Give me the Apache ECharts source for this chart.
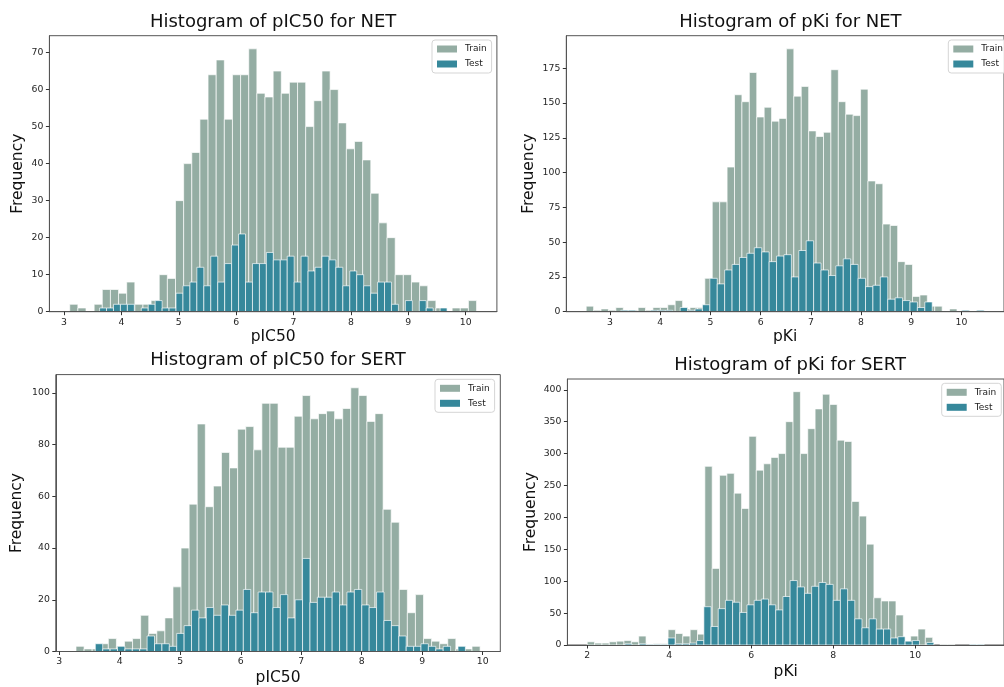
<!DOCTYPE html>
<html><head><meta charset="utf-8">
<script src="https://cdn.jsdelivr.net/npm/echarts@6/dist/echarts.min.js"></script>
<style>html,body{margin:0;padding:0;background:#fff}#c{width:1004px;height:687px}</style>
</head><body><div id="c"></div>
<script>
// ---------- DATA ----------
const seriesNames = ['Train', 'Test'];
const panelTitles = ['Histogram of pIC50 for NET', 'Histogram of pKi for NET', 'Histogram of pIC50 for SERT', 'Histogram of pKi for SERT'];
const xLabels = ['pIC50', 'pKi', 'pIC50', 'pKi'];
const yLabel = 'Frequency';

// panel 1: pIC50 NET (50 bins each)
const netIC50TrainRange = [3.1, 10.19];
const netIC50Train = [2,1,0,2,6,6,5,8,2,2,3,10,9,30,40,43,52,64,68,52,64,64,71,59,58,65,59,62,62,50,57,65,60,51,44,46,41,32,24,20,10,10,8,7,3,1,0,1,1,3];
const netIC50TestRange = [3.62, 9.676];
const netIC50Test = [1,1,2,2,2,0,1,2,3,1,1,5,7,8,12,7,15,8,13,18,21,8,13,13,16,14,14,15,8,15,11,12,15,14,12,7,11,10,7,5,8,8,2,0,3,0,3,1,0,1];

// panel 2: pKi NET
const netKiTrainRange = [2.527, 9.91];
const netKiTrain = [4,1,2,1,3,1,1,3,1,3,3,5,8,2,3,3,24,79,79,104,156,151,172,140,147,137,139,189,155,162,130,126,129,174,151,142,141,160,94,92,63,62,36,34,11,12,4,4,0,2];
const netKiTestRange = [3.07, 10.45];
const netKiTest = [0,1,1,0,0,1,1,1,0,3,1,2,5,24,20,30,34,39,42,46,43,36,40,41,25,44,51,35,30,26,33,38,34,24,18,19,25,9,10,8,7,3,7,0,0,0,0,1,0,1];

// panel 3: pIC50 SERT
const sertIC50TrainRange = [3.276, 9.957];
const sertIC50Train = [2,1,1,3,5,2,4,5,14,7,8,13,25,40,57,88,56,64,77,71,86,87,78,96,96,79,79,91,99,90,92,93,90,94,102,99,89,92,55,50,24,15,22,5,4,3,5,1,1,2];
const sertIC50TestRange = [3.595, 9.714];
const sertIC50Test = [3,1,1,2,1,1,1,6,3,3,2,7,10,16,13,17,14,18,14,16,24,15,23,23,17,22,13,20,36,19,21,21,23,18,23,24,18,17,23,12,10,6,2,2,3,2,1,2,0,2];

// panel 4: pKi SERT
const sertKiTrainRange = [2.0, 10.964];
const sertKiTrain = [5,3,3,5,6,7,5,14,1,2,2,24,18,14,24,17,280,120,266,269,238,214,327,274,284,294,300,350,397,300,339,370,393,377,321,319,225,202,158,74,69,69,47,6,14,25,12,0,1,1];
const sertKiTestRange = [2.916, 11.681];
const sertKiTest = [2,0,2,1,1,1,11,2,2,3,7,60,29,57,70,67,51,63,70,72,63,55,76,101,91,81,92,98,95,70,88,70,41,27,41,25,25,11,13,6,7,0,4,0,0,0,0,0,1,1];

// tick labels
const xTicks1 = [3,4,5,6,7,8,9,10];
const xTicks2 = [3,4,5,6,7,8,9,10];
const xTicks3 = [3,4,5,6,7,8,9,10];
const xTicks4 = [2,4,6,8,10];
const yTicks1 = [0,10,20,30,40,50,60,70];
const yTicks2 = [0,25,50,75,100,125,150,175];
const yTicks3 = [0,20,40,60,80,100];
const yTicks4 = [0,50,100,150,200,250,300,350,400];

// axis extents (matplotlib 5% margins around data)
const xExtents = [[2.7455, 10.5445], [2.131, 10.846], [2.942, 10.291], [1.516, 12.165]];
const yMaxes = [74.55, 198.45, 107.1, 416.85];

// ---------- LAYOUT / STYLE ----------
const FONT = 'DejaVu Sans';
const TRAIN_COLOR = '#94ada3';
const TEST_COLOR = '#36889b';
const layout = [
  {left: 49.4, top: 35.7, width: 447.5, height: 276, titleTop: 13, legendLeft: 432, legendTop: 40, yGap: 23.5, xGap: 17},
  {left: 566.3, top: 35.7, width: 448.2, height: 276, titleTop: 13, legendLeft: 948.3, legendTop: 40, yGap: 29.5, xGap: 17},
  {left: 55.8, top: 374.6, width: 444.5, height: 277.1, titleTop: 351, legendLeft: 435, legendTop: 379.3, yGap: 30.5, xGap: 18.5},
  {left: 567.4, top: 379, width: 445.4, height: 266, titleTop: 356, legendLeft: 941.7, legendTop: 383.3, yGap: 28.5, xGap: 19}
];

const panels = [
  {train: [netIC50TrainRange, netIC50Train], test: [netIC50TestRange, netIC50Test], xt: xTicks1, yt: yTicks1},
  {train: [netKiTrainRange, netKiTrain], test: [netKiTestRange, netKiTest], xt: xTicks2, yt: yTicks2},
  {train: [sertIC50TrainRange, sertIC50Train], test: [sertIC50TestRange, sertIC50Test], xt: xTicks3, yt: yTicks3},
  {train: [sertKiTrainRange, sertKiTrain], test: [sertKiTestRange, sertKiTest], xt: xTicks4, yt: yTicks4}
];

function binsOf(range, counts) {
  const w = (range[1] - range[0]) / counts.length;
  const out = [];
  counts.forEach((c, i) => { if (c > 0) out.push([range[0] + i * w, range[0] + (i + 1) * w, c]); });
  return out;
}

function renderBar(params, api) {
  const p0 = api.coord([api.value(0), api.value(2)]);
  const p1 = api.coord([api.value(1), 0]);
  return {
    type: 'rect',
    shape: {x: p0[0], y: p0[1], width: p1[0] - p0[0], height: p1[1] - p0[1]},
    style: {fill: api.visual('color'), stroke: 'rgba(255,255,255,0.75)', lineWidth: 0.9}
  };
}

const grid = [], xAxis = [], yAxis = [], series = [], title = [], legend = [];
panels.forEach((p, k) => {
  const L = layout[k];
  grid.push({left: L.left, top: L.top, width: L.width, height: L.height, show: true,
    borderColor: '#555', borderWidth: 1, backgroundColor: 'transparent', containLabel: false});
  xAxis.push({type: 'value', gridIndex: k, min: xExtents[k][0], max: xExtents[k][1], z: 5,
    name: xLabels[k], nameLocation: 'middle', nameGap: L.xGap,
    nameTextStyle: {fontFamily: FONT, fontSize: 15.5, color: '#111'},
    axisLine: {show: true, onZero: false, lineStyle: {color: '#555', width: 1}},
    axisTick: {show: true, length: 3.5, lineStyle: {color: '#333'}, customValues: p.xt},
    axisLabel: {margin: 6, fontFamily: FONT, fontSize: 9.3, color: '#262626', customValues: p.xt},
    splitLine: {show: false}});
  yAxis.push({type: 'value', gridIndex: k, min: 0, max: yMaxes[k], z: 5,
    name: yLabel, nameLocation: 'middle', nameGap: L.yGap, nameRotate: 90,
    nameTextStyle: {fontFamily: FONT, fontSize: 15.5, color: '#111'},
    axisLine: {show: true, lineStyle: {color: '#555', width: 1}},
    axisTick: {show: true, length: 3.5, lineStyle: {color: '#333'}, customValues: p.yt},
    axisLabel: {margin: 6, fontFamily: FONT, fontSize: 9.3, color: '#262626', customValues: p.yt},
    splitLine: {show: false}});
  series.push({type: 'custom', name: seriesNames[0], xAxisIndex: k, yAxisIndex: k, clip: true, z: 2,
    itemStyle: {color: TRAIN_COLOR}, renderItem: renderBar, encode: {x: [0, 1], y: 2},
    data: binsOf(p.train[0], p.train[1])});
  series.push({type: 'custom', name: seriesNames[1], xAxisIndex: k, yAxisIndex: k, clip: true, z: 3,
    itemStyle: {color: TEST_COLOR}, renderItem: renderBar, encode: {x: [0, 1], y: 2},
    data: binsOf(p.test[0], p.test[1])});
  title.push({text: panelTitles[k], left: L.left + L.width / 2, top: L.titleTop, textAlign: 'center', padding: 0,
    textStyle: {fontFamily: FONT, fontSize: 18, fontWeight: 'normal', color: '#111'}});
  legend.push({left: L.legendLeft, top: L.legendTop, orient: 'vertical', padding: [3, 5, 3, 5],
    itemWidth: 20, itemHeight: 7, itemGap: 3, icon: 'rect',
    backgroundColor: 'rgba(255,255,255,0.85)', borderColor: '#d5d5d5', borderWidth: 1, borderRadius: 3,
    textStyle: {fontFamily: FONT, fontSize: 9, color: '#222', lineHeight: 12, padding: [0, 0, 0, 3]},
    data: [{name: seriesNames[0], itemStyle: {color: TRAIN_COLOR}}, {name: seriesNames[1], itemStyle: {color: TEST_COLOR}}]});
});

const chart = echarts.init(document.getElementById('c'), null, {renderer: 'canvas'});
chart.setOption({animation: false, backgroundColor: '#fff', title, legend, grid, xAxis, yAxis, series});
</script></body></html>
